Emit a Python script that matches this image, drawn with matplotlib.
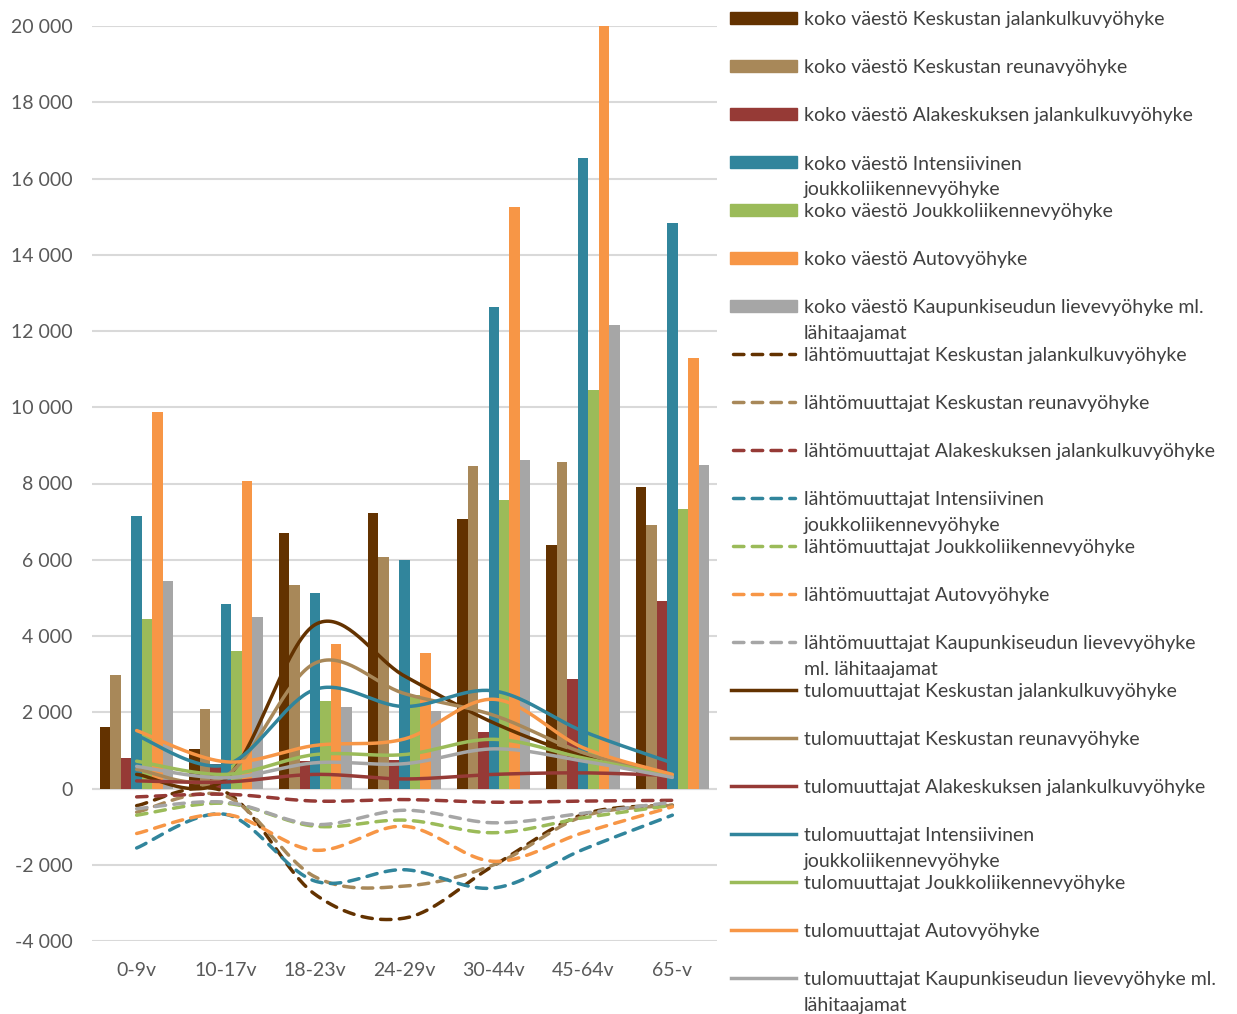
import numpy as np
import matplotlib.pyplot as plt
from matplotlib.ticker import FuncFormatter
from matplotlib.patches import Rectangle
from matplotlib.lines import Line2D

plt.rcParams['font.family'] = ['Lato', 'DejaVu Sans']

categories = ['0-9v', '10-17v', '18-23v', '24-29v', '30-44v', '45-64v', '65-v']

zones = ['Keskustan jalankulkuvyöhyke', 'Keskustan reunavyöhyke',
         'Alakeskuksen jalankulkuvyöhyke', 'Intensiivinen joukkoliikennevyöhyke',
         'Joukkoliikennevyöhyke', 'Autovyöhyke',
         'Kaupunkiseudun lievevyöhyke ml. lähitaajamat']
colors = ['#633200', '#a88859', '#963a36', '#31859c', '#9bbb59', '#f79646', '#a6a6a6']

# koko väestö (bars)
koko_kesk_jalan = [1620, 1040, 6690, 7230, 7080, 6400, 7910]
koko_kesk_reuna = [2975, 2090, 5330, 6060, 8450, 8570, 6900]
koko_alakesk = [790, 630, 720, 740, 1480, 2880, 4920]
koko_intensiivinen = [7160, 4830, 5130, 5990, 12640, 16540, 14820]
koko_joukko = [4450, 3610, 2290, 2440, 7570, 10450, 7330]
koko_auto = [9870, 8070, 3780, 3560, 15250, 20000, 11280]
koko_lieve = [5450, 4510, 2150, 2040, 8610, 12150, 8480]

# lähtömuuttajat (dashed, negative)
lahto_kesk_jalan = [-450, -100, -2780, -3400, -2020, -680, -440]
lahto_kesk_reuna = [-620, -200, -2320, -2560, -2000, -730, -440]
lahto_alakesk = [-220, -150, -330, -290, -360, -330, -310]
lahto_intensiivinen = [-1560, -680, -2430, -2130, -2610, -1600, -700]
lahto_joukko = [-700, -390, -990, -830, -1160, -770, -440]
lahto_auto = [-1180, -680, -1620, -990, -1910, -1160, -480]
lahto_lieve = [-530, -360, -945, -570, -900, -650, -360]

# tulomuuttajat (solid)
tulo_kesk_jalan = [370, 260, 4300, 2950, 1720, 850, 330]
tulo_kesk_reuna = [500, 330, 3290, 2490, 1920, 940, 330]
tulo_alakesk = [200, 170, 370, 250, 370, 410, 340]
tulo_intensiivinen = [1390, 620, 2600, 2150, 2560, 1500, 670]
tulo_joukko = [717, 370, 890, 890, 1290, 800, 330]
tulo_auto = [1520, 700, 1130, 1300, 2340, 1070, 370]
tulo_lieve = [580, 280, 675, 650, 1040, 720, 290]

koko = [koko_kesk_jalan, koko_kesk_reuna, koko_alakesk, koko_intensiivinen,
        koko_joukko, koko_auto, koko_lieve]
lahto = [lahto_kesk_jalan, lahto_kesk_reuna, lahto_alakesk, lahto_intensiivinen,
         lahto_joukko, lahto_auto, lahto_lieve]
tulo = [tulo_kesk_jalan, tulo_kesk_reuna, tulo_alakesk, tulo_intensiivinen,
        tulo_joukko, tulo_auto, tulo_lieve]


def smooth(y, steps=40):
    # Excel-like smoothed line (cubic Bezier through the points)
    x = np.arange(len(y), dtype=float)
    y = np.asarray(y, dtype=float)
    pts = np.column_stack([x, y])
    out = []
    for i in range(len(pts) - 1):
        p0 = pts[i - 1] if i > 0 else pts[i]
        p1, p2 = pts[i], pts[i + 1]
        p3 = pts[i + 2] if i + 2 < len(pts) else pts[i + 1]
        c1 = p1 + (p2 - p0) / 6
        c2 = p2 - (p3 - p1) / 6
        t = np.linspace(0, 1, steps)[:, None]
        seg = ((1 - t) ** 3) * p1 + 3 * ((1 - t) ** 2) * t * c1 + 3 * (1 - t) * t ** 2 * c2 + t ** 3 * p2
        out.append(seg if i == 0 else seg[1:])
    seg = np.vstack(out)
    return seg[:, 0], seg[:, 1]


fig = plt.figure(figsize=(12.37, 10.14), dpi=100)
ax = fig.add_axes([92 / 1237, 1 - 941 / 1014, (717 - 92) / 1237, (941 - 26) / 1014])

x = np.arange(len(categories))
n = len(koko)
bw = 0.82 / n
for i, vals in enumerate(koko):
    ax.bar(x - 0.41 + bw * (i + 0.5), vals, width=bw, color=colors[i], zorder=2)

for i, vals in enumerate(lahto):
    sx, sy = smooth(vals)
    ax.plot(sx, sy, color=colors[i], lw=2.5, dashes=(3.0, 2.4),
            dash_capstyle='round', zorder=3)

for i, vals in enumerate(tulo):
    sx, sy = smooth(vals)
    ax.plot(sx, sy, color=colors[i], lw=2.5, solid_capstyle='round', zorder=4)

ax.set_xlim(-0.5, 6.5)
ax.set_ylim(-4000, 20000)
ax.set_yticks(np.arange(-4000, 20001, 2000))
ax.yaxis.set_major_formatter(FuncFormatter(lambda v, p: f'{int(v):,}'.replace(',', ' ')))
ax.set_xticks(x)
ax.set_xticklabels(categories)
ax.grid(axis='y', color='#d9d9d9', lw=1.5, zorder=0)
ax.axhline(0, color='#d9d9d9', lw=1.5, zorder=1)
for s in ax.spines.values():
    s.set_visible(False)
ax.tick_params(length=0, labelsize=14, colors='#595959')
ax.tick_params(axis='y', pad=14)
ax.tick_params(axis='x', pad=15)

# legend drawn in figure pixel space
lg = fig.add_axes([0, 0, 1, 1])
lg.set_xlim(0, 1237)
lg.set_ylim(1014, 0)
lg.axis('off')

labels = []
for z in zones:
    labels.append('koko väestö ' + z)
for z in zones:
    labels.append('lähtömuuttajat ' + z)
for z in zones:
    labels.append('tulomuuttajat ' + z)

wraps = {
    'koko väestö Intensiivinen joukkoliikennevyöhyke': ['koko väestö Intensiivinen', 'joukkoliikennevyöhyke'],
    'koko väestö Kaupunkiseudun lievevyöhyke ml. lähitaajamat': ['koko väestö Kaupunkiseudun lievevyöhyke ml.', 'lähitaajamat'],
    'lähtömuuttajat Intensiivinen joukkoliikennevyöhyke': ['lähtömuuttajat Intensiivinen', 'joukkoliikennevyöhyke'],
    'lähtömuuttajat Kaupunkiseudun lievevyöhyke ml. lähitaajamat': ['lähtömuuttajat Kaupunkiseudun lievevyöhyke', 'ml. lähitaajamat'],
    'tulomuuttajat Intensiivinen joukkoliikennevyöhyke': ['tulomuuttajat Intensiivinen', 'joukkoliikennevyöhyke'],
    'tulomuuttajat Kaupunkiseudun lievevyöhyke ml. lähitaajamat': ['tulomuuttajat Kaupunkiseudun lievevyöhyke ml.', 'lähitaajamat'],
}

for k, lab in enumerate(labels):
    yy = 18 + 48 * k
    c = colors[k % 7]
    if k < 7:
        lg.add_patch(Rectangle((730, yy - 6), 67, 12, color=c))
    elif k < 14:
        lg.add_line(Line2D([733, 795], [yy, yy], color=c, lw=2.5, dashes=(3.0, 2.4),
                           dash_capstyle='round'))
    else:
        lg.add_line(Line2D([731, 796], [yy, yy], color=c, lw=2.5))
    lines = wraps.get(lab, [lab])
    for j, t in enumerate(lines):
        lg.text(804, yy + 2 + 26 * j, t, fontsize=14, color='#404040', va='center', ha='left')

fig.savefig('out.png', dpi=100)
